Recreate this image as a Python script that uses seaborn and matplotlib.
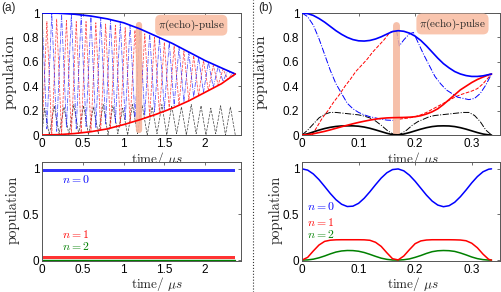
"""
Population dynamics with and without the pi(echo)-pulse, panels (a) and (b).
"""

import matplotlib
matplotlib.use("Agg")
import matplotlib.pyplot as plt
from matplotlib.lines import Line2D
import seaborn as sns

# ============================================================
# Data, panel (a) top: fast oscillations (extrema)
# ============================================================
t_osc = [0.00, 0.06, 0.12, 0.18, 0.24, 0.30, 0.36, 0.42, 0.48, 0.54, 0.60,
         0.66, 0.72, 0.78, 0.84, 0.90, 0.96, 1.02, 1.08, 1.14, 1.20, 1.26,
         1.32, 1.38, 1.44, 1.50, 1.56, 1.62, 1.68, 1.74, 1.80, 1.86, 1.92,
         1.98, 2.04, 2.10, 2.16, 2.22, 2.28, 2.34, 2.37]
blue_osc_a = [1.0, 0.05, 0.999, 0.03, 0.997, 0.06, 0.991, 0.05, 0.987, 0.07,
              0.975, 0.06, 0.962, 0.09, 0.946, 0.10, 0.926, 0.12, 0.90, 0.14,
              0.87, 0.16, 0.834, 0.19, 0.798, 0.21, 0.762, 0.24, 0.722, 0.27,
              0.68, 0.31, 0.638, 0.35, 0.598, 0.39, 0.562, 0.44, 0.53, 0.48, 0.5]
red_osc_a = [0.0, 0.93, 0.001, 0.95, 0.004, 0.94, 0.01, 0.93, 0.018, 0.93,
             0.028, 0.92, 0.04, 0.91, 0.056, 0.90, 0.076, 0.88, 0.10, 0.86,
             0.125, 0.83, 0.152, 0.80, 0.18, 0.76, 0.21, 0.73, 0.245, 0.69,
             0.28, 0.65, 0.32, 0.61, 0.365, 0.57, 0.41, 0.54, 0.455, 0.51, 0.5]
t_blk = [0.00, 0.03, 0.09, 0.15, 0.21, 0.27, 0.33, 0.39, 0.45, 0.51, 0.57,
         0.63, 0.69, 0.75, 0.81, 0.87, 0.93, 0.99, 1.05, 1.11, 1.17, 1.23,
         1.29, 1.35, 1.41, 1.47, 1.53, 1.59, 1.65, 1.71, 1.77, 1.83, 1.89,
         1.95, 2.01, 2.07, 2.13, 2.19, 2.25, 2.31, 2.37]
black_osc_a = [0.0, 0.22, 0.0, 0.24, 0.01, 0.23, 0.0, 0.25, 0.01, 0.24, 0.0,
               0.23, 0.01, 0.25, 0.0, 0.24, 0.01, 0.22, 0.0, 0.25, 0.01, 0.24,
               0.0, 0.23, 0.01, 0.25, 0.0, 0.24, 0.01, 0.23, 0.0, 0.25, 0.01,
               0.24, 0.0, 0.22, 0.01, 0.24, 0.0, 0.23, 0.0]

# envelopes (solid)
t_env_a = [0.0, 0.2, 0.4, 0.6, 0.8, 1.0, 1.2, 1.4, 1.6, 1.8, 2.0, 2.2, 2.37]
blue_env_a = [1.0, 0.998, 0.99, 0.975, 0.952, 0.92, 0.87, 0.81, 0.75, 0.68, 0.61, 0.55, 0.5]
red_env_a = [0.0, 0.003, 0.012, 0.027, 0.05, 0.085, 0.125, 0.17, 0.22, 0.28, 0.35, 0.42, 0.5]

echo_a = 1.19

# ============================================================
# Data, panel (a) bottom: populations of n = 0, 1, 2 (narrow bands)
# ============================================================
t_band_a = [0.0, 2.37]
n0_lo_a = [0.965, 0.965]
n0_hi_a = [1.0, 1.0]
n1_lo_a = [0.012, 0.012]
n1_hi_a = [0.045, 0.045]
n2_a = [0.003, 0.003]

# ============================================================
# Data, panel (b) top
# ============================================================
t_b = [0.0, 0.01, 0.02, 0.03, 0.04, 0.05, 0.06, 0.07, 0.08, 0.09, 0.10, 0.11,
       0.12, 0.13, 0.14, 0.15, 0.16, 0.17, 0.18, 0.19, 0.20, 0.21, 0.22, 0.23,
       0.24, 0.25, 0.26, 0.27, 0.28, 0.29, 0.30, 0.31, 0.32, 0.33, 0.335]
blue_b = [1.0, 0.995, 0.98, 0.955, 0.925, 0.89, 0.855, 0.825, 0.80, 0.782, 0.772,
          0.77, 0.775, 0.787, 0.805, 0.827, 0.848, 0.855, 0.85, 0.835, 0.81,
          0.775, 0.73, 0.68, 0.63, 0.585, 0.55, 0.52, 0.50, 0.487, 0.48, 0.48,
          0.485, 0.495, 0.5]
red_b = [0.0, 0.003, 0.01, 0.02, 0.03, 0.042, 0.055, 0.068, 0.08, 0.092, 0.103,
         0.113, 0.122, 0.13, 0.136, 0.14, 0.142, 0.143, 0.144, 0.146, 0.15,
         0.158, 0.172, 0.19, 0.215, 0.25, 0.29, 0.33, 0.37, 0.40, 0.43, 0.455,
         0.475, 0.493, 0.5]
black_b = [0.0, 0.01, 0.025, 0.04, 0.053, 0.063, 0.07, 0.074, 0.075, 0.075, 0.072,
           0.065, 0.055, 0.042, 0.028, 0.014, 0.003, 0.001, 0.008, 0.02, 0.034,
           0.048, 0.06, 0.069, 0.074, 0.075, 0.074, 0.069, 0.06, 0.048, 0.034,
           0.02, 0.008, 0.001, 0.0]

# dash-dot / dashed curves, before and after the echo pulse
t_bdd_1 = [0.0, 0.01, 0.02, 0.03, 0.04, 0.05, 0.06, 0.07, 0.08, 0.09, 0.10, 0.11,
           0.12, 0.13, 0.14, 0.15, 0.16, 0.165]
blue_dd_1 = [1.0, 0.97, 0.9, 0.79, 0.66, 0.53, 0.42, 0.34, 0.26, 0.215, 0.185,
             0.165, 0.15, 0.14, 0.13, 0.122, 0.12, 0.12]
t_bdd_2 = [0.167, 0.172, 0.18, 0.19, 0.197, 0.205, 0.215, 0.225, 0.235, 0.245,
           0.255, 0.265, 0.275, 0.285, 0.295, 0.305, 0.315, 0.325, 0.335]
blue_dd_2 = [0.86, 0.73, 0.78, 0.83, 0.84, 0.76, 0.66, 0.57, 0.48, 0.42, 0.37,
             0.34, 0.31, 0.30, 0.29, 0.30, 0.34, 0.41, 0.5]

t_rd_1 = [0.0, 0.018, 0.027, 0.036, 0.046, 0.056, 0.066, 0.076, 0.086, 0.095,
          0.105, 0.115, 0.125, 0.135, 0.145, 0.155, 0.162]
red_dd_1 = [0.0, 0.0, 0.07, 0.14, 0.2, 0.27, 0.33, 0.4, 0.46, 0.52, 0.57, 0.62,
            0.68, 0.73, 0.78, 0.84, 0.85]
t_rd_2 = [0.172, 0.18, 0.19, 0.2, 0.21, 0.22, 0.23, 0.24, 0.25, 0.26, 0.27, 0.28,
          0.29, 0.3, 0.31, 0.32, 0.335]
red_dd_2 = [0.13, 0.135, 0.14, 0.15, 0.165, 0.185, 0.21, 0.235, 0.26, 0.285, 0.31,
            0.33, 0.345, 0.36, 0.38, 0.42, 0.5]

t_kd_1 = [0.0, 0.01, 0.02, 0.03, 0.04, 0.05, 0.06, 0.07, 0.08, 0.09, 0.1, 0.11,
          0.12, 0.13, 0.14, 0.15, 0.16, 0.167]
black_dd_1 = [0.0, 0.04, 0.09, 0.14, 0.17, 0.185, 0.185, 0.18, 0.175, 0.17, 0.165,
              0.155, 0.14, 0.115, 0.08, 0.04, 0.01, 0.0]
t_kd_2 = [0.167, 0.175, 0.185, 0.195, 0.205, 0.215, 0.225, 0.235, 0.245, 0.255,
          0.265, 0.275, 0.285, 0.295, 0.305, 0.315, 0.325, 0.335]
black_dd_2 = [0.0, 0.01, 0.04, 0.08, 0.11, 0.13, 0.15, 0.16, 0.165, 0.17, 0.175,
              0.18, 0.185, 0.185, 0.16, 0.11, 0.04, 0.0]

echo_b = 0.167

# ============================================================
# Data, panel (b) bottom
# ============================================================
n0_b = [1.0, 0.986, 0.944, 0.882, 0.807, 0.73, 0.662, 0.612, 0.587, 0.591, 0.622,
        0.678, 0.749, 0.826, 0.899, 0.957, 0.992, 0.999, 0.978, 0.93, 0.864,
        0.788, 0.712, 0.647, 0.603, 0.585, 0.596, 0.634, 0.695, 0.768, 0.846,
        0.915, 0.968, 0.996, 1.0]
n1_b = [0.0, 0.03, 0.10, 0.165, 0.205, 0.218, 0.222, 0.223, 0.223, 0.223, 0.223,
        0.222, 0.217, 0.195, 0.15, 0.08, 0.015, 0.002, 0.045, 0.115, 0.18, 0.21,
        0.22, 0.223, 0.223, 0.223, 0.223, 0.222, 0.22, 0.212, 0.185, 0.135,
        0.065, 0.008, 0.0]
n2_b = [0.0, 0.002, 0.01, 0.025, 0.045, 0.068, 0.088, 0.1, 0.105, 0.104, 0.097,
        0.083, 0.063, 0.041, 0.021, 0.008, 0.001, 0.0, 0.004, 0.013, 0.03, 0.05,
        0.073, 0.092, 0.102, 0.105, 0.103, 0.095, 0.078, 0.057, 0.034, 0.016,
        0.005, 0.0, 0.0]

# ticks
xticks_a = [0, 0.5, 1, 1.5, 2]
xlabels_a = ["0", "0.5", "1", "1.5", "2"]
xticks_b = [0, 0.1, 0.2, 0.3]
xlabels_b = ["0", "0.1", "0.2", "0.3"]
yticks_top = [0, 0.2, 0.4, 0.6, 0.8, 1]
ylabels_top = ["0", "0.2", "0.4", "0.6", "0.8", "1"]
yticks_bot = [0, 0.5, 1]
ylabels_bot = ["0", "0.5", "1"]

# ============================================================
# Style
# ============================================================
sns.set_style("white")
plt.rcParams["font.family"] = ["Liberation Sans", "DejaVu Sans"]
plt.rcParams["mathtext.fontset"] = "cm"
plt.rcParams["axes.unicode_minus"] = False

BLUE, RED, BLACK, GREEN = "#0000ff", "#ff0000", "#000000", "#008000"
SALMON_BAR = "#f5b59b"
SALMON_BOX = "#f9c5ae"
SERIF = "cmr10"


def line(ax, x, y, color, ls="-", lw=1.1, z=2, alpha=1.0):
    sns.lineplot(x=x, y=y, ax=ax, color=color, linestyle=ls, linewidth=lw,
                 estimator=None, sort=False, zorder=z, alpha=alpha)


def style_axes(ax, xlim, ylim, xticks, xlabels, yticks, ylabels):
    ax.set_xlim(*xlim)
    ax.set_ylim(*ylim)
    ax.set_xticks(xticks, xlabels)
    ax.set_yticks(yticks, ylabels)
    ax.tick_params(direction="in", length=2.5, width=0.6, top=True, right=True,
                   labelsize=8.5, pad=2, color="#555555", labelcolor="black")
    for s in ax.spines.values():
        s.set_visible(True)
        s.set_color("#555555")
        s.set_linewidth(0.7)


fig = plt.figure(figsize=(5.01, 2.92), dpi=100)
W, H = 501, 292
ax_a = fig.add_axes([42 / W, 157 / H, 199 / W, 122 / H])
ax_b = fig.add_axes([302 / W, 157 / H, 198 / W, 122 / H])
ax_c = fig.add_axes([42 / W, 31 / H, 199 / W, 99 / H])
ax_d = fig.add_axes([302 / W, 31 / H, 198 / W, 99 / H])

# ---------------- (a) top ----------------
line(ax_a, t_blk, black_osc_a, BLACK, "--", 0.5, 1, 0.75)
line(ax_a, t_osc, red_osc_a, RED, "--", 0.55, 1, 0.7)
line(ax_a, t_osc, blue_osc_a, BLUE, "-.", 0.55, 1, 0.7)
ax_a.plot([echo_a, echo_a], [0.04, 0.9], color=SALMON_BAR, lw=4.5,
          solid_capstyle="round", alpha=0.9, zorder=3)
line(ax_a, t_env_a, blue_env_a, BLUE, "-", 1.2, 4)
line(ax_a, t_env_a, red_env_a, RED, "-", 1.2, 4)
ax_a.text(1.83, 0.9, r"$\pi$(echo)-pulse", fontfamily=SERIF, fontsize=8,
          ha="center", va="center", zorder=5,
          bbox=dict(boxstyle="round,pad=0.25,rounding_size=0.5", fc=SALMON_BOX, ec="none"))
style_axes(ax_a, (0, 2.44), (0, 1), xticks_a, xlabels_a, yticks_top, ylabels_top)

# ---------------- (b) top ----------------
line(ax_b, t_kd_1, black_dd_1, BLACK, "-.", 0.7, 1)
line(ax_b, t_kd_2, black_dd_2, BLACK, "-.", 0.7, 1)
line(ax_b, t_rd_1, red_dd_1, RED, "--", 0.7, 1)
line(ax_b, t_rd_2, red_dd_2, RED, "--", 0.7, 1)
line(ax_b, t_bdd_1, blue_dd_1, BLUE, "-.", 0.7, 1)
line(ax_b, t_bdd_2, blue_dd_2, BLUE, "-.", 0.7, 1)
ax_b.plot([echo_b, echo_b], [0.02, 0.9], color=SALMON_BAR, lw=5,
          solid_capstyle="round", alpha=0.85, zorder=3)
line(ax_b, t_b, black_b, BLACK, "-", 1.2, 4)
line(ax_b, t_b, red_b, RED, "-", 1.2, 4)
line(ax_b, t_b, blue_b, BLUE, "-", 1.2, 4)
ax_b.text(0.266, 0.91, r"$\pi$(echo)-pulse", fontfamily=SERIF, fontsize=8,
          ha="center", va="center", zorder=5,
          bbox=dict(boxstyle="round,pad=0.25,rounding_size=0.5", fc=SALMON_BOX, ec="none"))
style_axes(ax_b, (0, 0.35), (0, 1), xticks_b, xlabels_b, yticks_top, ylabels_top)

# ---------------- (a) bottom ----------------
line(ax_c, t_band_a, n2_a, GREEN, "-", 1.0, 1)
ax_c.fill_between(t_band_a, n1_lo_a, n1_hi_a, color=RED, alpha=0.8, lw=0, zorder=2)
ax_c.fill_between(t_band_a, n0_lo_a, n0_hi_a, color=BLUE, alpha=0.8, lw=0, zorder=2)
ax_c.text(0.25, 0.88, r"$n=0$", color=BLUE, fontsize=8.5, va="center")
ax_c.text(0.25, 0.28, r"$n=1$", color=RED, fontsize=8.5, va="center")
ax_c.text(0.25, 0.145, r"$n=2$", color=GREEN, fontsize=8.5, va="center")
style_axes(ax_c, (0, 2.44), (-0.01, 1.075), xticks_a, xlabels_a, yticks_bot, ylabels_bot)

# ---------------- (b) bottom ----------------
line(ax_d, t_b, n2_b, GREEN, "-", 1.1, 2)
line(ax_d, t_b, n1_b, RED, "-", 1.1, 2)
line(ax_d, t_b, n0_b, BLUE, "-", 1.1, 2)
ax_d.text(0.009, 0.58, r"$n=0$", color=BLUE, fontsize=8.5, va="center")
ax_d.text(0.009, 0.405, r"$n=1$", color=RED, fontsize=8.5, va="center")
ax_d.text(0.009, 0.27, r"$n=2$", color=GREEN, fontsize=8.5, va="center")
style_axes(ax_d, (0, 0.35), (-0.01, 1.075), xticks_b, xlabels_b, yticks_bot, ylabels_bot)

# ---------------- labels ----------------
for ax, fs, xl, yl, ylx in [(ax_a, 11.5, 0.58, -0.125, -0.126),
                            (ax_b, 11.5, 0.56, -0.125, -0.172),
                            (ax_c, 10.5, 0.58, -0.145, -0.11),
                            (ax_d, 10.5, 0.56, -0.145, -0.10)]:
    ax.set_ylabel("population", fontfamily=SERIF, fontsize=fs)
    ax.set_xlabel(r"time/ $\mu s$", fontfamily=SERIF, fontsize=9.5)
    ax.xaxis.set_label_coords(xl, yl)
    ax.yaxis.set_label_coords(ylx, 0.52)

fig.text(0.002, 0.974, "(a)", fontsize=8.5, va="center")
fig.text(258 / W, 0.974, "(b)", fontsize=8.5, va="center")
fig.add_artist(Line2D([253 / W, 253 / W], [0, 1], transform=fig.transFigure,
                      color="#333333", ls=":", lw=0.8))

fig.savefig("out.png", dpi=100)
plt.close(fig)
